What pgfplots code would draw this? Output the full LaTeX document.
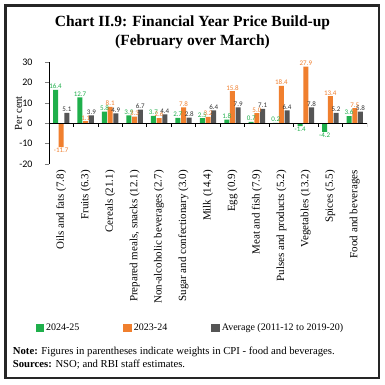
\documentclass[border=0pt]{standalone}
\usepackage{pgfplots}
\pgfplotsset{compat=1.18}
\usepackage{fontspec}
\setmainfont{Liberation Serif}
\newfontfamily\calfont{Carlito}
\definecolor{cgreen}{HTML}{1FAF4B}
\definecolor{corange}{HTML}{F07F2E}
\definecolor{cgray}{HTML}{555555}
\begin{document}
\begin{tikzpicture}
\fill[white] (0,0) rectangle (385pt,-384pt);
\draw[line width=2.5pt, black!85] (5.3pt,-5.3pt) rectangle (379.2pt,-378pt);
\node[font=\bfseries\fontsize{15.5}{19}\selectfont, align=center] at (192.5pt,-32.5pt) {Chart II.9: Financial Year Price Build-up\\(February over March)};
\begin{axis}[
  at={(49pt,-164pt)}, anchor=south west,
  scale only axis, width=318pt, height=101.7pt,
  xmin=-0.5, xmax=12.5, ymin=-20, ymax=30,
  ytick={-20,-10,0,10,20,30},
  axis y line*=left, axis x line*=bottom,
  x axis line style={draw=none},
  y axis line style={line width=0.7pt},
  xtick={0,...,12},
  xtick style={draw=none},
  ytick style={line width=0.7pt},
  tick align=outside,
  major tick length=4pt,
  /pgf/number format/assume math mode=true,
  yticklabel style={font=\calfont\fontsize{10}{11}\selectfont, xshift=-9pt},
  xticklabels={Oils and fats (7.8),Fruits (6.3),Cereals (21.1),{Prepared meals, snacks (12.1)},Non-alcoholic beverages (2.7),Sugar and confectionary (3.0),Milk (14.4),Egg (0.9),Meat and fish (7.9),Pulses and products (5.2),Vegetables (13.2),Spices (5.5),Food and beverages},
  xticklabel style={rotate=90, anchor=east, font=\fontsize{11}{12}\selectfont, inner sep=2pt},
  ylabel={Per cent},
  every axis y label/.style={at={(axis description cs:-0.096,0.5)}, rotate=90, anchor=center, font=\fontsize{10.5}{12}\selectfont},
  ybar=0.7pt, bar width=5pt,
  nodes near coords,
  nodes near coords style={font=\calfont\fontsize{7}{8}\selectfont, inner sep=0.8pt,
    /pgf/number format/fixed, /pgf/number format/fixed zerofill, /pgf/number format/precision=1, /pgf/number format/assume math mode=true},
  legend columns=3,
  legend style={draw=none, at={(axis description cs:-0.052,-1.613)}, anchor=west,
    font=\fontsize{10}{11}\selectfont,
    /tikz/every even column/.append style={column sep=42pt}},
  legend image code/.code={\fill[#1,draw=none] (0pt,-4pt) rectangle (8.5pt,4pt);},
]
\addplot[fill=cgreen, draw=none, every node near coord/.append style={text=cgreen}] coordinates {
(0,16.4) (1,12.7) (2,5.8) (3,3.9) (4,3.7) (5,2.7) (6,2.5) (7,1.8) (8,0.7) (9,0.2) (10,-1.4) (11,-4.2) (12,3.6)};
\addplot[fill=corange, draw=none, every node near coord/.append style={text=corange}] coordinates {
(0,-11.7) (1,1.1) (2,8.1) (3,3.3) (4,2.6) (5,7.8) (6,3.2) (7,15.8) (8,5.0) (9,18.4) (10,27.9) (11,13.4) (12,7.5)};
\addplot[fill=cgray, draw=none, every node near coord/.append style={text=black!80}] coordinates {
(0,5.1) (1,3.9) (2,4.9) (3,6.7) (4,4.4) (5,2.8) (6,6.4) (7,7.9) (8,7.1) (9,6.4) (10,7.8) (11,5.2) (12,5.8)};
\legend{2024-25,2023-24,Average (2011-12 to 2019-20)}
\draw[line width=0.7pt] (axis cs:-0.5,0) -- (axis cs:12.5,0);
\draw[line width=0.7pt]
 (axis cs:0.5,0) -- ++(0pt,-4pt) (axis cs:1.5,0) -- ++(0pt,-4pt)
 (axis cs:2.5,0) -- ++(0pt,-4pt) (axis cs:3.5,0) -- ++(0pt,-4pt)
 (axis cs:4.5,0) -- ++(0pt,-4pt) (axis cs:5.5,0) -- ++(0pt,-4pt)
 (axis cs:6.5,0) -- ++(0pt,-4pt) (axis cs:7.5,0) -- ++(0pt,-4pt)
 (axis cs:8.5,0) -- ++(0pt,-4pt) (axis cs:9.5,0) -- ++(0pt,-4pt)
 (axis cs:10.5,0) -- ++(0pt,-4pt) (axis cs:11.5,0) -- ++(0pt,-4pt)
 (axis cs:12.5,0) -- ++(0pt,-4pt);
\end{axis}
\node[anchor=west, font=\fontsize{10.7}{12}\selectfont, inner sep=0pt] at (12.7pt,-351.5pt) {\textbf{Note:} Figures in parentheses indicate weights in CPI - food and beverages.};
\node[anchor=west, font=\fontsize{10.7}{12}\selectfont, inner sep=0pt] at (12.7pt,-365pt) {\textbf{Sources:} NSO; and RBI staff estimates.};
\end{tikzpicture}
\end{document}
